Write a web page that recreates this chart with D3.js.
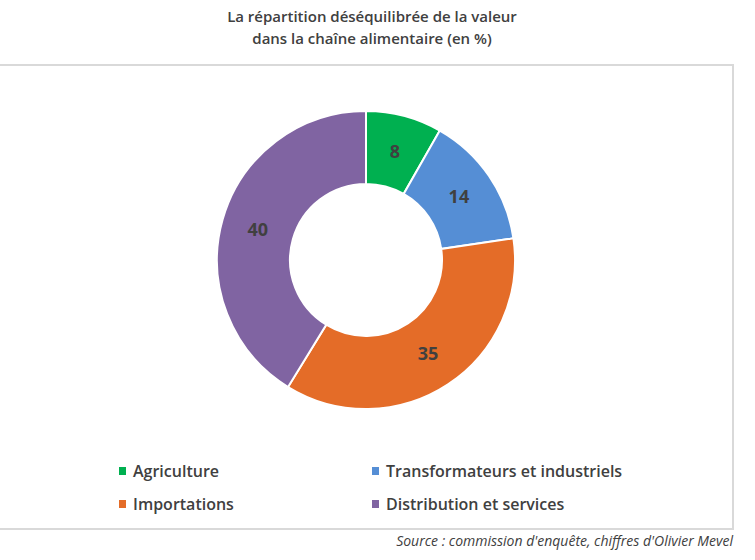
<!DOCTYPE html>
<html><head><meta charset="utf-8">
<script src="https://cdn.jsdelivr.net/npm/d3@7"></script>
<style>body{margin:0;background:#fff;} svg{display:block;font-family:"Open Sans",sans-serif;}</style>
</head><body>
<svg id="c" width="755" height="560"></svg>
<script>
const categories = ["Agriculture", "Transformateurs et industriels", "Importations", "Distribution et services"];
const values = [8, 14, 35, 40];
const colors = ["#00B050", "#558ED5", "#E46C28", "#8064A2"];
const titleLines = ["La répartition déséquilibrée de la valeur", "dans la chaîne alimentaire (en %)"];
const sourceText = "Source : commission d'enquête, chiffres d'Olivier Mevel";

const svg = d3.select("#c");
const textColor = "#404040";

// border
svg.append("rect").attr("x", -2).attr("y", 65).attr("width", 735).attr("height", 464)
  .attr("fill", "#fff").attr("stroke", "#d9d9d9").attr("stroke-width", 2);

// title
svg.append("g").selectAll("text").data(titleLines).join("text")
  .attr("x", 372).attr("y", (d, i) => 22 + i * 22)
  .attr("text-anchor", "middle").attr("font-size", 15).attr("font-weight", 600)
  .attr("fill", textColor).text(d => d);

const cx = 366, cy = 260, rOuter = 149, rInner = 76;
const pie = d3.pie().sort(null).value(d => d.v);
const data = pie(categories.map((c, i) => ({c, v: values[i], col: colors[i]})));
const arc = d3.arc().innerRadius(rInner).outerRadius(rOuter);

const g = svg.append("g").attr("transform", `translate(${cx},${cy})`);
g.selectAll("path").data(data).join("path")
  .attr("d", arc).attr("fill", d => d.data.col)
  .attr("stroke", "#fff").attr("stroke-width", 2);
g.selectAll("text").data(data).join("text")
  .attr("transform", d => `translate(${arc.centroid(d)})`)
  .attr("text-anchor", "middle").attr("dy", "0.35em")
  .attr("font-size", 18).attr("font-weight", 700).attr("fill", textColor)
  .text(d => d.data.v);

// legend
const legPos = [[123, 471], [376, 471], [123, 504], [376, 504]];
const lg = svg.append("g").selectAll("g").data(categories).join("g")
  .attr("transform", (d, i) => `translate(${legPos[i][0]},${legPos[i][1]})`);
lg.append("rect").attr("x", -4).attr("y", -4).attr("width", 7).attr("height", 8)
  .attr("fill", (d, i) => colors[i]);
lg.append("text").attr("x", 10).attr("dy", "0.35em").attr("font-size", 16).attr("font-weight", 600)
  .attr("fill", textColor).text(d => d);

// source
svg.append("text").attr("x", 733).attr("y", 546).attr("text-anchor", "end")
  .attr("font-size", 14).attr("font-style", "italic").attr("fill", textColor).text(sourceText);
</script>
</body></html>
